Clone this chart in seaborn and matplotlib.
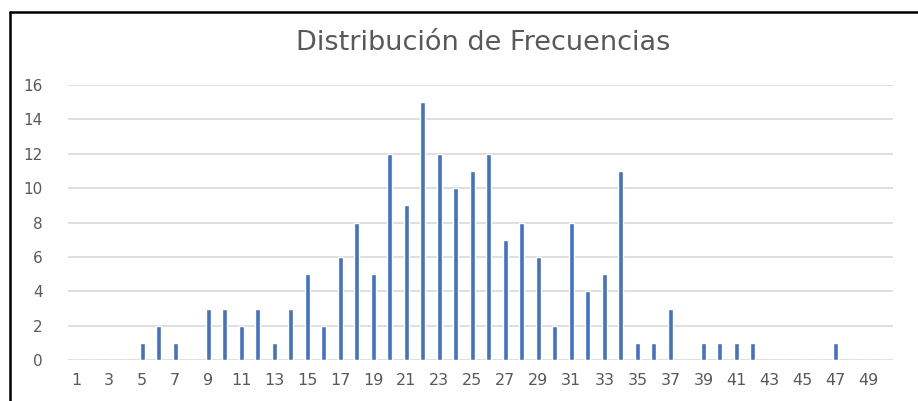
import matplotlib
matplotlib.use("Agg")
import matplotlib.pyplot as plt
import pandas as pd
import seaborn as sns
from matplotlib.lines import Line2D

# data
categorias = list(range(1, 51))
frecuencias = [0, 0, 0, 0, 1, 2, 1, 0, 3, 3,
               2, 3, 1, 3, 5, 2, 6, 8, 5, 12,
               9, 15, 12, 10, 11, 12, 7, 8, 6, 2,
               8, 4, 5, 11, 1, 1, 3, 0, 1, 1,
               1, 1, 0, 0, 0, 0, 1, 0, 0, 0]
y_ticks = [0, 2, 4, 6, 8, 10, 12, 14, 16]

df = pd.DataFrame({"clase": categorias, "frecuencia": frecuencias})

sns.set_theme(style="white")
plt.rcParams["font.family"] = ["DejaVu Sans"]

text_color = "#595959"
fig = plt.figure(figsize=(9.18, 4.01), dpi=100)
ax = fig.add_axes([0.074, 0.102, 0.899, 0.686])

sns.barplot(data=df, x="clase", y="frecuencia", order=categorias,
            color="#4472C4", saturation=1, width=0.3, ax=ax)

ax.set_ylim(0, 16)
ax.set_yticks(y_ticks)
ax.set_yticklabels([str(v) for v in y_ticks], color=text_color, fontsize=11)
ax.set_xlim(-0.5, len(categorias) - 0.5)
ax.set_xticks(range(0, len(categorias), 2))
ax.set_xticklabels([str(c) for c in categorias[::2]], color=text_color, fontsize=11.5)
ax.tick_params(axis="y", length=0, pad=18)
ax.tick_params(axis="x", length=0, pad=9)
ax.set_xlabel("")
ax.set_ylabel("")
ax.grid(axis="y", color="#D9D9D9", linewidth=1.2)
ax.set_axisbelow(True)
for s in ax.spines.values():
    s.set_visible(False)

fig.text(0.526, 0.893, "Distribución de Frecuencias", ha="center", va="center",
         fontsize=19.5, color=text_color)

# frame of the chart area
fig.add_artist(Line2D([9.5 / 918, 9.5 / 918], [0, 1 - 11.5 / 401], color="black", linewidth=1.8))
fig.add_artist(Line2D([9.5 / 918, 1], [1 - 11.5 / 401, 1 - 11.5 / 401], color="black", linewidth=1.8))

fig.savefig("out.png", dpi=100)
